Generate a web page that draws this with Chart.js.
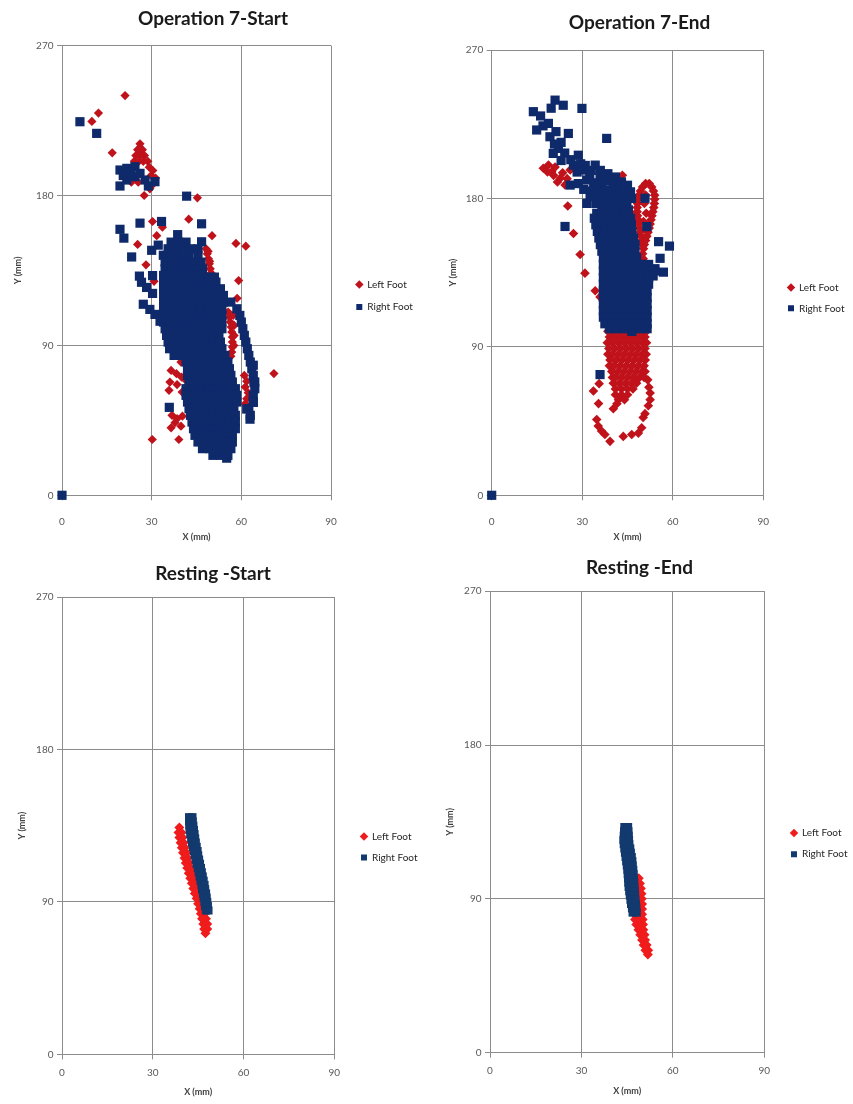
<!DOCTYPE html>
<html><head><meta charset="utf-8">
<script src="https://cdn.jsdelivr.net/npm/chart.js@4.4.1/dist/chart.umd.min.js"></script>
<style>
html,body{margin:0;padding:0;background:#fff;}
body{width:853px;height:1104px;position:relative;overflow:hidden;}
canvas{position:absolute;}
</style></head><body>
<canvas id="c1" width="426" height="548" style="left:0px;top:0px"></canvas>
<canvas id="c2" width="427" height="548" style="left:426px;top:0px"></canvas>
<canvas id="c3" width="426" height="552" style="left:0px;top:552px"></canvas>
<canvas id="c4" width="427" height="552" style="left:426px;top:552px"></canvas>
<script>
// ---------------- DATA ----------------
const seriesNames = ['Left Foot', 'Right Foot'];
const chartTitles = ['Operation 7-Start', 'Operation 7-End', 'Resting -Start', 'Resting -End'];
const xTicks = [0, 30, 60, 90];
const yTicks = [0, 90, 180, 270];
const xAxisTitle = 'X (mm)';
const yAxisTitle = 'Y (mm)';

// Operation 7 - Start
const op7StartLeft = [
 [21.1,240],[12.2,229.5],[10,224.5],[16.8,205.6],
 [26.1,211],[25.3,207.5],[26.9,207.5],[24.7,204],[26.1,204],[27.6,204],[24.2,200.5],[25.7,200.5],[27.2,200.5],[28.7,200.5],
 [23.7,197],[29.2,197],[30.4,195],[29.8,192],[31.3,190.5],[30.6,187],[25.5,188],[23.2,188],[29.4,184],
 [27.5,180],[45.3,178.6],[42.4,165.8],[30.3,164.4],[33.6,161],[50.2,155.9],[31.7,155.9],[25.3,150.6],[58.2,151.2],[61.5,149.6],
 [28.1,138.4],[30.8,128.5],[33.9,132.3],[59.1,128.9],[58.6,118.3],[36.3,112.6],
 [48.2,148],[48.6,145],[49,142],[49.3,139],[49.6,136],[49.9,133.5],[48.9,146.5],[49.4,140.5],
 [55.6,110],[56,107],[56.3,104],[56.6,101],[56.8,98],[57,95],[57,92],[57,89],[56.8,86],[56.5,83.5],[57.3,108],[57.6,102],[57.6,96],[57.5,90],
 [39.5,86],[41,83],[39.8,80],[36.5,75],[38.3,73],[40,71],[41.5,69],[36.1,68],[38.5,66.5],[40.2,62],[35.8,63],
 [36.8,48],[38.5,46],[40.3,47.5],[37.8,43.6],[39.8,41.5],[36.5,40.5],[30.2,33.5],[39.1,33.5],
 [61,72],[61.8,68.5],[61.3,65],[62.3,61.5],[61.8,58],[61.3,55],[70.9,73.1],[45.9,81]
];
const op7StartRight = [
 [0,0],[6,224.3],[11.6,217.3],
 [19.4,195.3],[19.4,185.7],[21.7,196.3],[21.7,189.3],[24.4,197.3],[24.4,191.3],[26.1,193.3],[27.8,189.3],[28.9,185.7],[31.1,188.3],[23,194],[20.5,192],
 [41.7,179.6],[26.1,163.4],[33.3,164.4],[46.7,163],[19.4,159.7],[20.7,154.4],[23.3,143.1],[30,147.1],[32.2,150.2],[33.9,144.1],
 [25.9,131.6],[26.6,127.9],[28.3,124.8],[30.3,121.2],[30.3,131.9],[27.2,114.7],[29.4,111.6],[31.1,108.6],[32.8,104.5],
 [38.7,156.5],
 [36.5,152],[39,152],[41.5,152],[46.7,152.2],
 [35.5,148],[38,148],[40.5,148],[43,148],[45.5,148],
 [35,144],[37.5,144],[40,144],[42.5,144],[45.5,144],
 [34.5,140],[37,140],[39.5,140],[42,140],[44.5,140],[46.5,140],
 [34.5,136],[37,136],[39.5,136],[42,136],[44.5,136],[47,136],
 [34,132],[36.5,132],[39,132],[41.5,132],[44,132],[46.5,132],[49,131],[51,131],
 [34,128],[36.5,128],[39,128],[41.5,128],[44,128],[46.5,128],[49,128],[51.5,128],
 [34,124],[36.5,124],[39,124],[41.5,124],[44,124],[46.5,124],[49,124],[51.5,124],[53,124],
 [34,120],[36.5,120],[39,120],[41.5,120],[44,120],[46.5,120],[49,120],[51.5,120],[54,120],
 [34,116],[36.5,116],[39,116],[41.5,116],[44,116],[46.5,116],[49,116],[51.5,116],[54,116],[56.5,116],
 [34,112],[36.5,112],[39,112],[41.5,112],[44,112],[46.5,112],[49,112],[51.5,112],[53.5,112],[58.5,112],
 [34,108],[36.5,108],[39,108],[41.5,108],[44,108],[46.5,108],[49,108],[51.5,108],[53.5,108],[59.5,108],
 [34,104],[36.5,104],[39,104],[41.5,104],[44,104],[46.5,104],[49,104],[51.5,104],[53.5,104],[60,104],
 [34.5,100],[37,100],[39.5,100],[42,100],[44.5,100],[47,100],[49.5,100],[52,100],[53.5,100],[60.5,100],
 [35,96],[37.5,96],[40,96],[42.5,96],[45,96],[47.5,96],[50,96],[52.5,96],[61,96],
 [35.5,92],[38,92],[40.5,92],[43,92],[45.5,92],[48,92],[50.5,92],[53,92],[61.5,92],
 [36,88],[38.5,88],[41,88],[43.5,88],[46,88],[48.5,88],[51,88],[53.5,88],[62,88],
 [37.5,84],[40,84],[42.5,84],[45,84],[47.5,84],[50,84],[52.5,84],[54.5,84],[62.5,84],
 [41.5,80],[44,80],[46.5,80],[49,80],[51.5,80],[54,80],[55.5,80],[63,80],
 [42,76],[44.5,76],[47,76],[49.5,76],[52,76],[54.5,76],[56,76],[63.5,76],
 [42,72],[44.5,72],[47,72],[49.5,72],[52,72],[54.5,72],[56.5,72],[64,72],
 [42.5,68],[45,68],[47.5,68],[50,68],[52.5,68],[55,68],[57,68],[64.5,68],
 [41.5,64],[44,64],[46.5,64],[49,64],[51.5,64],[54,64],[56.5,64],[58,64],[64.5,64],
 [41.5,60],[44,60],[46.5,60],[49,60],[51.5,60],[54,60],[56.5,60],[58.5,60],[64,60],
 [42,56],[44.5,56],[47,56],[49.5,56],[52,56],[54.5,56],[57,56],[58.5,56],[64,56],
 [42.5,52],[45,52],[47.5,52],[50,52],[52.5,52],[55,52],[57.5,52],[62.5,52],
 [43,48],[45.5,48],[48,48],[50.5,48],[53,48],[55.5,48],[58,48],[63,48],
 [43.5,44],[46,44],[48.5,44],[51,44],[53.5,44],[56,44],[58,44],
 [44,40],[46.5,40],[49,40],[51.5,40],[54,40],[56.5,40],[58,40],
 [44.5,36],[47,36],[49.5,36],[52,36],[54.5,36],[57,36],
 [45.5,32],[48,32],[50.5,32],[53,32],[55.5,32],[57,32],
 [47,28],[49.5,28],[52,28],[54.5,28],[56.5,28],
 [50.5,24],[53,24],[55.5,24],
 [35.9,52.8],[64,78.1],[64.2,68],[64,55.8],[62.9,45.7],[61.8,51.8],[55.1,22.3]
];

// Operation 7 - End
const op7EndLeft = [
 [17.1,198.3],[18.8,200.3],[19.9,196.2],[21,199],[22.7,192.2],[24.3,188.2],[26,197.3],[25,192],[20.5,194],[23.5,195.5],[18.5,196],[21.8,190],
 [43.3,194.1],[42.5,187],[44.2,183.5],[44.2,175.3],[46,171.5],
 [25.2,175.4],[27.1,158.7],[29.3,146],[30.9,134.7],[34.3,124],[35.9,120.3],[37.2,116.5],[37.8,112.5],
 [51,189],[50,187],[49.3,184.5],[48.8,182],[48.5,179.5],[48.3,177],[48.2,174.5],[48.2,172],[48.3,169.5],[48.5,167],[48.7,164.5],[49,162],[49.2,159.5],[49.5,157],[49.7,154.5],[50,152],
 [52.2,189],[53,187],[53.6,184.5],[54,182],[54,179.5],[53.9,177],[53.7,174.5],[53.4,172],[53.1,169.5],[52.8,167],[52.5,164.5],[52.2,162],[51.8,159.5],[51.4,157],[51,154.5],[50.6,152],[50.3,149.5],
 [51,182],[50.6,177],[51.2,171],[50.3,166],[51.5,160],[50,146.5],[50.2,143.5],[50.5,140.5],
 [39,103],[41,103],[43,103],[45,103],[47,103],[49,103],[51,103],
 [38.5,99.5],[40,99.5],[42,99.5],[44,99.5],[46,99.5],[48,99.5],[50,99.5],[51.3,99.5],
 [39,96],[41,96],[43,96],[45,96],[47,96],[49,96],[50.8,96],
 [38.3,92.5],[40,92.5],[42,92.5],[44,92.5],[46,92.5],[48,92.5],[50,92.5],[51.3,92.5],
 [38.8,89],[40.8,89],[42.8,89],[44.8,89],[46.8,89],[48.8,89],[50.8,89],
 [38.5,85.5],[40,85.5],[42,85.5],[44,85.5],[46,85.5],[48,85.5],[50,85.5],[51.2,85.5],
 [39.2,82],[41.2,82],[43.2,82],[45.2,82],[47.2,82],[49.2,82],[50.9,82],
 [39,78.5],[40.5,78.5],[42.5,78.5],[44.5,78.5],[46.5,78.5],[48.5,78.5],[50.5,78.5],
 [39.8,75],[41.8,75],[43.8,75],[45.8,75],[47.8,75],[49.8,75],[50.8,75],
 [40,71.5],[41,71.5],[43,71.5],[45,71.5],[47,71.5],[49,71.5],[50.5,71.5],
 [40.3,68],[42.3,68],[44.3,68],[46.3,68],[48,68],
 [41,64.5],[43,64.5],[45,64.5],[46.8,64.5],
 [41,61],[43,61],[45,61],[42,58],[44,58],
 [33.7,63.2],[35.6,67.7],[35.4,55.6],[34.8,46],[35.3,42],[36.4,39],[37.5,36.9],[39.2,32.7],[40.3,52.5],[41.5,55.5],
 [43.6,35.7],[46.4,36.9],[48.6,37.7],[49.7,41],[50.2,47.2],[50.8,49.5],[51.9,54.3],[52.5,58],[52.5,62],[52.1,65.5],[51.7,70]
];
const op7EndRight = [
 [0,0],
 [13.8,232.6],[21,239.6],[23.7,236.5],[19.7,234.7],[29.9,234.6],[16.2,230],[14.9,221.5],[17,224],[18.8,225.5],[19.3,217.4],[21.3,220.5],[25.4,219.4],[38.1,216.4],
 [20.8,213],[23,214],[22.1,210.3],[20.4,207.3],[24.2,207.5],[28.7,206.2],[26.2,203.5],[23,203],[27.1,200.2],[29.5,201],[30.4,197.2],[34.3,200.2],
 [28.3,196],[32.5,194.5],[31.5,191.2],[35.9,193.2],[26,188.1],[28.7,189],[33.8,189.5],[36.5,188],[38.5,190.5],[40.3,189.2],
 [31,200],[33,197],[36,197],[38.5,195],[41,193],[37.5,193],[43,190],[45,188],[46,184],[46.3,180],[42.5,178.5],[31.5,177],
 [30.5,185.5],[32.8,184.5],[35.3,185],[38,185],[40.8,185],[43.1,185.1],[32.6,181.1],[35,180.5],[37,181.1],[39.5,181],[42,181],[44.5,180.5],
 [34.5,177],[37,176.5],[39.5,177],[42,176.5],[44.8,176],[45.3,173],[50.8,180.1],[34.8,171],[36.5,172.5],[39,172.5],[41.5,172],[44,172],
 [24.3,163],[51.4,162.9],[55.3,153.8],[58.9,151.1],[55.8,143.7],[56.9,135.3],[54.1,137.4],[35.9,73.2],[46.4,99.4],
 [34,168],[36.5,168],[39,168],[41.5,168],[44,168],[46,168],
 [34.5,164],[37,164],[39.5,164],[42,164],[44.5,164],[46.3,164],
 [35,160],[37.5,160],[40,160],[42.5,160],[45,160],[46.5,160],
 [35.5,156],[38,156],[40.5,156],[43,156],[45.5,156],[47,156],
 [36,152],[38.5,152],[41,152],[43.5,152],[46,152],[47.5,152],
 [36.5,148],[39,148],[41.5,148],[44,148],[46.5,148],[47.5,148],
 [37,144],[39.5,144],[42,144],[44.5,144],[47,144],[48,144],
 [37,140],[39.5,140],[42,140],[44.5,140],[47,140],[49.5,140],[52,140],
 [37,136],[39.5,136],[42,136],[44.5,136],[47,136],[49.5,136],[52,136],[54,136],
 [37,132],[39.5,132],[42,132],[44.5,132],[47,132],[49.5,132],[52,132],[53.5,133],
 [37,128],[39.5,128],[42,128],[44.5,128],[47,128],[49.5,128],[52,128],
 [37,124],[39.5,124],[42,124],[44.5,124],[47,124],[49.5,124],[51.5,124],
 [37,120],[39.5,120],[42,120],[44.5,120],[47,120],[49.5,120],[51.5,120],
 [37,116],[39.5,116],[42,116],[44.5,116],[47,116],[49.5,116],[51.5,116],
 [37,112],[39.5,112],[42,112],[44.5,112],[47,112],[49.5,112],[51.5,112],
 [37,108],[39.5,108],[42,108],[44.5,108],[47,108],[49.5,108],[51.5,108],
 [37.5,104],[40,104],[42.5,104],[45,104],[47.5,104],[50,104],[51.5,104],
 [39,101],[41.5,101],[44,101],[46.5,101],[49,101],[51.5,101]
];

// Resting - Start
const restStartLeft = [
 [38.8,134],[38.5,131],[39.5,131],[38.8,128],[39.8,128],[39.2,125],[40.2,125],[39.6,122],[40.6,122],[40,119],[41.1,119],
 [40.5,116],[41.5,116],[40.9,113],[42,113],[41.4,110],[42.5,110],[41.9,107],[43,107],[42.4,104],[43.5,104],[42.9,101],[44,101],
 [43.4,98],[44.5,98],[43.9,95],[45,95],[44.5,92],[45.6,92],[45,89],[46.1,89],[45.5,86],[46.6,86],[45.9,83],[47.1,83],
 [46.3,80],[47.6,80],[46.7,77],[48,77],[47,74],[48,74],[47.4,71.5]
];
const restStartRight = [
 [42,140],[43.1,140],[42,137.5],[43.2,137.5],[42.1,135],[43.4,135],[42.2,132.5],[43.6,132.5],[42.4,130],[43.8,130],
 [42.7,127.5],[44,127.5],[43,125],[44.2,125],[43.3,122.5],[44.5,122.5],[43.6,120],[44.8,120],[43.9,117.5],[45,117.5],
 [44.2,115],[45.3,115],[44.5,112.5],[45.6,112.5],[44.9,110],[45.9,110],[45.2,107.5],[46.2,107.5],[45.5,105],[46.5,105],
 [45.8,102.5],[46.8,102.5],[46.1,100],[47.1,100],[46.3,97.5],[47.3,97.5],[46.6,95],[47.6,95],[46.8,92.5],[47.8,92.5],
 [47.1,90],[48,90],[47.3,87.5],[48.2,87.5],[47.6,85],[48.4,85]
];

// Resting - End
const restEndLeft = [
 [48.8,102],[48.5,99],[49.2,99],[48.3,96],[49.5,96],[48.2,93],[49.7,93],[48.2,90],[49.8,90],[48,87],[49.9,87],
 [47.7,84],[49.9,84],[47.4,81],[48.6,81],[49.9,81],[47.6,78],[48.8,78],[50.1,78],[48,75],[49.1,75],[50.2,75],
 [48.7,72],[50.3,72],[49.3,69],[50.7,69],[49.9,66],[50.9,66],[50.4,63],[51.4,63],[51,60],[51.9,60],[51.8,57.5]
];
const restEndRight = [
 [44.1,132],[45.3,132],[44,129.5],[45.4,129.5],[43.9,127],[45.5,127],[43.8,124.5],[45.6,124.5],[43.9,122],[45.7,122],
 [44.1,119.5],[46,119.5],[44.3,117],[46.2,117],[44.5,114.5],[46.5,114.5],[44.7,112],[46.7,112],[44.9,109.5],[46.8,109.5],
 [45.1,107],[47,107],[45.2,104.5],[47.1,104.5],[45.3,102],[47.2,102],[45.4,99.5],[47.3,99.5],[45.5,97],[47.4,97],
 [45.7,94.5],[47.5,94.5],[45.9,92],[47.6,92],[46.1,89.5],[47.7,89.5],[46.3,87],[47.9,87],[46.6,84.5],[48,84.5],[46.8,82],[48.1,82]
];

// ---------------- STYLE / LAYOUT ----------------
Chart.defaults.font.family = 'Lato, "Open Sans", "DejaVu Sans", sans-serif';

const panels = [
  {id:'c1', left:op7StartLeft, right:op7StartRight, title:chartTitles[0], red:'#C0121B', navy:'#0F2A6B', redR:4.6, navyR:6.5,
   yW:62, xH:52.7, tPad:{top:7.2,bottom:15.6}, lgW:95, lgX:343.9, lgY:267.2, lgPad:12.4, yTitlePad:12.9, xTitlePad:5.1, xTickPad:15.7},
  {id:'c2', left:op7EndLeft, right:op7EndRight, title:chartTitles[1], red:'#C0121B', navy:'#0F2A6B', redR:4.8, navyR:6.5,
   yW:65.7, xH:52.7, tPad:{top:11.6,bottom:15.6}, lgW:89.7, lgX:351.1, lgY:271.5, lgPad:10.9, yTitlePad:21.9, xTitlePad:5.1, xTickPad:15.7},
  {id:'c3', left:restStartLeft, right:restStartRight, title:chartTitles[2], red:'#F01C1C', navy:'#123A6E', redR:5, navyR:5.8,
   yW:62, xH:49.6, tPad:{top:10.6,bottom:11.6}, lgW:91.7, lgX:350.1, lgY:268.6, lgPad:10.9, yTitlePad:16.3, xTitlePad:7, xTickPad:7.4},
  {id:'c4', left:restEndLeft, right:restEndRight, title:chartTitles[3], red:'#F01C1C', navy:'#123A6E', redR:5, navyR:5.8,
   yW:64, xH:51.3, tPad:{top:4.2,bottom:12.2}, lgW:88.7, lgX:353.8, lgY:264.8, lgPad:11.2, yTitlePad:18.6, xTitlePad:7.6, xTickPad:7}
];

const legendPlacer = {
  id: 'legendPlacer',
  afterInit(chart, args, opts) {
    const lg = chart.legend;
    if (!lg) return;
    const orig = lg.fit;
    lg.fit = function () { orig.call(this); this.width = opts.width; };
  },
  afterLayout(chart, args, opts) {
    const lg = chart.legend;
    if (!lg) return;
    const w = lg.width;
    lg.left = opts.x; lg.right = opts.x + w;
    lg.top = opts.y; lg.bottom = opts.y + 200; lg.height = 200;
  }
};

const gridColor = '#8c8c8c';
const toPts = arr => arr.map(p => ({x: p[0], y: p[1]}));

panels.forEach(s => {
  new Chart(document.getElementById(s.id), {
    type: 'scatter',
    data: {
      datasets: [
        {label: seriesNames[0], data: toPts(s.left), pointStyle: 'rectRot', pointRadius: s.redR, pointHoverRadius: s.redR,
         backgroundColor: s.red, pointBackgroundColor: s.red, borderColor: s.red, pointBorderWidth: 0, order: 1, clip: false},
        {label: seriesNames[1], data: toPts(s.right), pointStyle: 'rect', pointRadius: s.navyR, pointHoverRadius: s.navyR,
         backgroundColor: s.navy, pointBackgroundColor: s.navy, borderColor: s.navy, pointBorderWidth: 0, order: 0, clip: false}
      ]
    },
    plugins: [legendPlacer],
    options: {
      responsive: false, maintainAspectRatio: false, animation: false, devicePixelRatio: 1, events: [],
      layout: {padding: 0},
      plugins: {
        legendPlacer: {width: s.lgW, x: s.lgX, y: s.lgY},
        tooltip: {enabled: false},
        title: {display: true, text: s.title, color: '#1a1a1a', font: {size: 19, weight: 'bold'}, padding: s.tPad},
        legend: {display: true, position: 'right', align: 'start',
          labels: {usePointStyle: true, boxWidth: 6, boxHeight: 6, padding: s.lgPad, color: '#262626', font: {size: 10},
                   sort: (a, b) => a.datasetIndex - b.datasetIndex}}
      },
      scales: {
        x: {type: 'linear', position: 'bottom', min: 0, max: 90,
          afterBuildTicks: sc => { sc.ticks = xTicks.map(v => ({value: v})); },
          afterFit: sc => { sc.height = s.xH; },
          ticks: {color: '#595959', font: {size: 10}, padding: s.xTickPad, maxRotation: 0, autoSkip: false},
          grid: {color: gridColor, lineWidth: 1, tickLength: 5, drawTicks: true},
          border: {color: gridColor, width: 1},
          title: {display: true, text: xAxisTitle, color: '#404040', font: {size: 9, weight: 'bold'}, padding: {top: 0, bottom: s.xTitlePad}}
        },
        y: {type: 'linear', position: 'left', min: 0, max: 270,
          afterBuildTicks: sc => { sc.ticks = yTicks.map(v => ({value: v})); },
          afterFit: sc => { sc.width = s.yW; },
          ticks: {color: '#595959', font: {size: 10}, padding: 3.5, autoSkip: false},
          grid: {color: gridColor, lineWidth: 1, tickLength: 5, drawTicks: true},
          border: {color: gridColor, width: 1},
          title: {display: true, text: yAxisTitle, color: '#404040', font: {size: 9, weight: 'bold'}, padding: {top: s.yTitlePad, bottom: 0}}
        }
      }
    }
  });
});
</script>
</body></html>
